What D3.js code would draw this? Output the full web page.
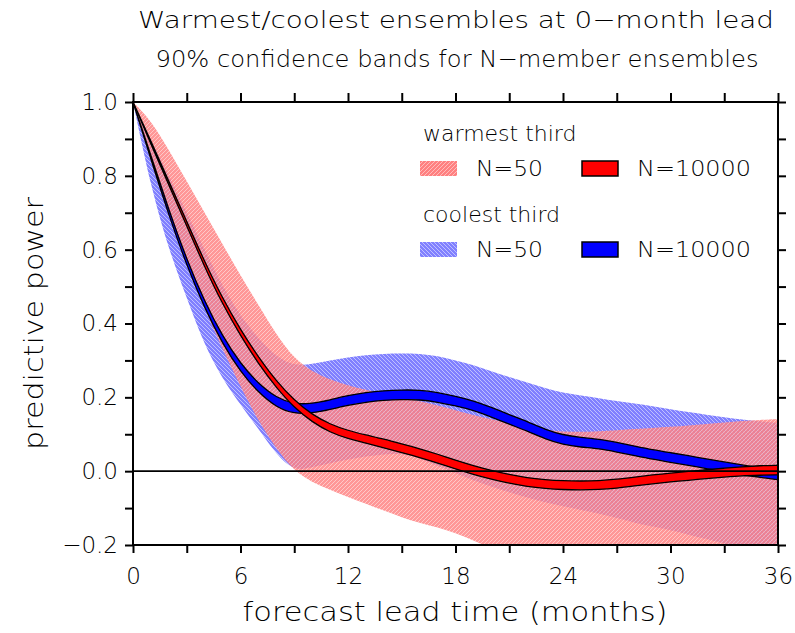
<!DOCTYPE html>
<html>
<head>
<meta charset="utf-8">
<script src="https://cdn.jsdelivr.net/npm/d3@7"></script>
<style>
    body { margin: 0; background: #fff; }
    svg text { font-family: "DejaVu Sans", "Open Sans", sans-serif; font-weight: 200; fill: #000; }
</style>
</head>
<body>
<div id="root"></div>
<script>
"use strict";

// lead time in months
var months = d3.range(0, 37);

// warmest third, N=10000 band: centre line and half width
var warmMid = [1.0, 0.89, 0.78, 0.67, 0.56, 0.46, 0.375, 0.3, 0.235, 0.182, 0.143, 0.116, 0.099,
    0.087, 0.075, 0.062, 0.049, 0.034, 0.018, 0.003, -0.01, -0.021, -0.03, -0.035, -0.038,
    -0.039, -0.038, -0.034, -0.028, -0.022, -0.017, -0.013, -0.008, -0.004, 0.0, 0.002, 0.003];
var warmHalf = [0, 0.004, 0.005, 0.006, 0.007, 0.008, 0.008, 0.009, 0.009, 0.01, 0.01, 0.011,
    0.011, 0.011, 0.012, 0.012, 0.012, 0.012, 0.012, 0.012, 0.012, 0.012, 0.012, 0.012, 0.012,
    0.012, 0.012, 0.012, 0.012, 0.012, 0.012, 0.012, 0.012, 0.012, 0.012, 0.013, 0.013];

// coolest third, N=10000 band
var coolMid = [1.0, 0.85, 0.7, 0.565, 0.45, 0.355, 0.28, 0.225, 0.186, 0.168, 0.17, 0.18, 0.192,
    0.2, 0.205, 0.207, 0.207, 0.2, 0.19, 0.178, 0.16, 0.14, 0.122, 0.1, 0.085, 0.078, 0.074,
    0.065, 0.055, 0.045, 0.037, 0.029, 0.02, 0.012, 0.004, -0.004, -0.01];
var coolHalf = [0, 0.005, 0.007, 0.008, 0.009, 0.01, 0.011, 0.012, 0.013, 0.013, 0.013, 0.013,
    0.013, 0.013, 0.013, 0.013, 0.013, 0.013, 0.013, 0.013, 0.013, 0.013, 0.013, 0.013, 0.013,
    0.013, 0.013, 0.013, 0.013, 0.013, 0.013, 0.013, 0.013, 0.013, 0.013, 0.013, 0.013];

// N=50 confidence bands
var warm50Hi = [1.0, 0.95, 0.87, 0.785, 0.7, 0.615, 0.53, 0.45, 0.37, 0.305, 0.27, 0.248, 0.232,
    0.22, 0.21, 0.2, 0.19, 0.178, 0.165, 0.152, 0.14, 0.13, 0.12, 0.112, 0.107, 0.106, 0.108,
    0.111, 0.114, 0.117, 0.12, 0.124, 0.128, 0.132, 0.136, 0.139, 0.141];
var warm50Lo = [1.0, 0.84, 0.69, 0.56, 0.44, 0.33, 0.23, 0.135, 0.06, 0.0, -0.03, -0.05, -0.07,
    -0.088, -0.107, -0.125, -0.14, -0.152, -0.168, -0.187, -0.21, -0.23, -0.25, -0.265, -0.28,
    -0.29, -0.3, -0.31, -0.32, -0.33, -0.335, -0.34, -0.345, -0.35, -0.355, -0.36, -0.365];
var cool50Hi = [1.0, 0.9, 0.8, 0.7, 0.6, 0.5, 0.42, 0.36, 0.31, 0.285, 0.29, 0.3, 0.308, 0.314,
    0.318, 0.319, 0.318, 0.312, 0.3, 0.288, 0.27, 0.255, 0.24, 0.225, 0.212, 0.205, 0.198, 0.19,
    0.183, 0.176, 0.168, 0.16, 0.153, 0.146, 0.14, 0.135, 0.13];
var cool50Lo = [1.0, 0.77, 0.6, 0.47, 0.34, 0.25, 0.18, 0.115, 0.045, 0.0, 0.01, 0.022, 0.032,
    0.04, 0.046, 0.048, 0.035, 0.015, -0.005, -0.025, -0.042, -0.057, -0.072, -0.085, -0.095,
    -0.105, -0.115, -0.127, -0.14, -0.15, -0.16, -0.172, -0.184, -0.196, -0.207, -0.218, -0.228];

// axis ticks
var xTicks = d3.range(0, 37, 3);
var xLabels = [0, 6, 12, 18, 24, 30, 36];
var yTicks = d3.range(-2, 11).map(function (d) { return d / 10; });
var yLabels = [-0.2, 0, 0.2, 0.4, 0.6, 0.8, 1.0];

var width = 795, height = 633,
    margin = { top: 102, right: 17, bottom: 88, left: 133 };

var svg = d3.select("#root").append("svg")
    .attr("width", width)
    .attr("height", height);

var x = d3.scaleLinear().domain([0, 36]).range([margin.left, width - margin.right]);
var y = d3.scaleLinear().domain([-0.2, 1.0]).range([height - margin.bottom, margin.top]);

var defs = svg.append("defs");

function hatch(id, base, stripe, d) {
    var p = defs.append("pattern")
        .attr("id", id)
        .attr("width", 4).attr("height", 4)
        .attr("patternUnits", "userSpaceOnUse");
    p.append("rect").attr("width", 4).attr("height", 4).attr("fill", base);
    p.append("path").attr("d", d).attr("stroke", stripe).attr("stroke-width", 1);
}
hatch("warm50", "#ff8080", "#ffbcbc", "M-1,1 l2,-2 M0,4 l4,-4 M3,5 l2,-2");
hatch("cool50", "#8080ff", "#c0c0ff", "M-1,3 l2,2 M0,0 l4,4 M3,-1 l2,2");

defs.append("clipPath").attr("id", "plot-clip")
    .append("rect")
    .attr("x", x(0)).attr("y", y(1.0))
    .attr("width", x(36) - x(0)).attr("height", y(-0.2) - y(1.0));

var plot = svg.append("g").attr("clip-path", "url(#plot-clip)");

function band(lo, hi) {
    return d3.area()
        .x(function (d) { return x(d); })
        .y0(function (d, i) { return y(lo[i]); })
        .y1(function (d, i) { return y(hi[i]); })
        .curve(d3.curveBasis)(months);
}

function plusMinus(mid, half, sign) {
    return mid.map(function (v, i) { return v + sign * half[i]; });
}

// wide N=50 bands, warm drawn over cool and partly see-through
plot.append("path")
    .attr("d", band(cool50Lo, cool50Hi))
    .attr("fill", "url(#cool50)");
plot.append("path")
    .attr("d", band(warm50Lo, warm50Hi))
    .attr("fill", "url(#warm50)")
    .attr("opacity", 0.82);

// narrow N=10000 bands
plot.append("path")
    .attr("d", band(plusMinus(coolMid, coolHalf, -1), plusMinus(coolMid, coolHalf, 1)))
    .attr("fill", "#0000ff")
    .attr("stroke", "#000")
    .attr("stroke-width", 1.3);
plot.append("path")
    .attr("d", band(plusMinus(warmMid, warmHalf, -1), plusMinus(warmMid, warmHalf, 1)))
    .attr("fill", "#ff0000")
    .attr("stroke", "#000")
    .attr("stroke-width", 1.3);

// zero line
svg.append("line")
    .attr("x1", x(0)).attr("x2", x(36))
    .attr("y1", y(0)).attr("y2", y(0))
    .attr("stroke", "#000").attr("stroke-width", 1.6);

// axes
function styleAxis(g) {
    g.select(".domain").remove();
    g.selectAll(".tick line").attr("stroke", "#000").attr("stroke-width", 2);
    g.attr("font-family", null).attr("font-size", 23);
}

function yFmt(d) {
    if (!yLabels.some(function (v) { return Math.abs(v - d) < 1e-9; })) return "";
    return d < 0 ? "\u2212" + Math.abs(d).toFixed(1) : d.toFixed(1);
}

svg.append("g")
    .attr("transform", "translate(" + x(0) + ",0)")
    .call(d3.axisLeft(y).tickValues(yTicks).tickSize(8).tickPadding(7).tickFormat(yFmt))
    .call(styleAxis);

svg.append("g")
    .attr("transform", "translate(" + x(36) + ",0)")
    .call(d3.axisRight(y).tickValues(yTicks).tickSize(8).tickFormat(""))
    .call(styleAxis);

svg.append("g")
    .attr("transform", "translate(0," + y(1.0) + ")")
    .call(d3.axisTop(x).tickValues(xTicks).tickSize(9).tickFormat(""))
    .call(styleAxis);

svg.append("g")
    .attr("transform", "translate(0," + y(-0.2) + ")")
    .call(d3.axisBottom(x).tickValues(xTicks).tickSize(8).tickPadding(15)
        .tickFormat(function (d) { return xLabels.indexOf(d) >= 0 ? d : ""; }))
    .call(styleAxis);

// frame
svg.append("rect")
    .attr("x", x(0)).attr("y", y(1.0))
    .attr("width", x(36) - x(0)).attr("height", y(-0.2) - y(1.0))
    .attr("fill", "none")
    .attr("stroke", "#000")
    .attr("stroke-width", 2);

// titles
svg.append("text")
    .attr("x", 456).attr("y", 28)
    .attr("text-anchor", "middle")
    .attr("font-size", 23)
    .attr("textLength", 636).attr("lengthAdjust", "spacingAndGlyphs")
    .text("Warmest/coolest ensembles at 0\u2212month lead");

svg.append("text")
    .attr("x", 457).attr("y", 67)
    .attr("text-anchor", "middle")
    .attr("font-size", 23)
    .attr("textLength", 603).attr("lengthAdjust", "spacingAndGlyphs")
    .text("90% confidence bands for N\u2212member ensembles");

svg.append("text")
    .attr("x", 455).attr("y", 621)
    .attr("text-anchor", "middle")
    .attr("font-size", 26)
    .attr("textLength", 425).attr("lengthAdjust", "spacingAndGlyphs")
    .text("forecast lead time (months)");

svg.append("text")
    .attr("transform", "translate(43," + (y(0.4)) + ") rotate(-90)")
    .attr("text-anchor", "middle")
    .attr("font-size", 27)
    .attr("textLength", 253).attr("lengthAdjust", "spacingAndGlyphs")
    .text("predictive power");

// legend
var legend = svg.append("g");

function legendRow(top, heading, fill50, fill10k) {
    legend.append("text")
        .attr("x", 423).attr("y", top)
        .attr("font-size", 22)
        .text(heading);
    legend.append("rect")
        .attr("x", 420).attr("y", top + 20)
        .attr("width", 37).attr("height", 15)
        .attr("fill", fill50);
    legend.append("text")
        .attr("x", 476).attr("y", top + 35)
        .attr("font-size", 22)
        .attr("textLength", 67).attr("lengthAdjust", "spacingAndGlyphs")
        .text("N=50");
    legend.append("rect")
        .attr("x", 582).attr("y", top + 20)
        .attr("width", 36).attr("height", 15)
        .attr("fill", fill10k)
        .attr("stroke", "#000")
        .attr("stroke-width", 1.5);
    legend.append("text")
        .attr("x", 637).attr("y", top + 35)
        .attr("font-size", 22)
        .attr("textLength", 114).attr("lengthAdjust", "spacingAndGlyphs")
        .text("N=10000");
}

legendRow(141, "warmest third", "url(#warm50)", "#ff0000");
legendRow(222, "coolest third", "url(#cool50)", "#0000ff");
</script>
</body>
</html>
